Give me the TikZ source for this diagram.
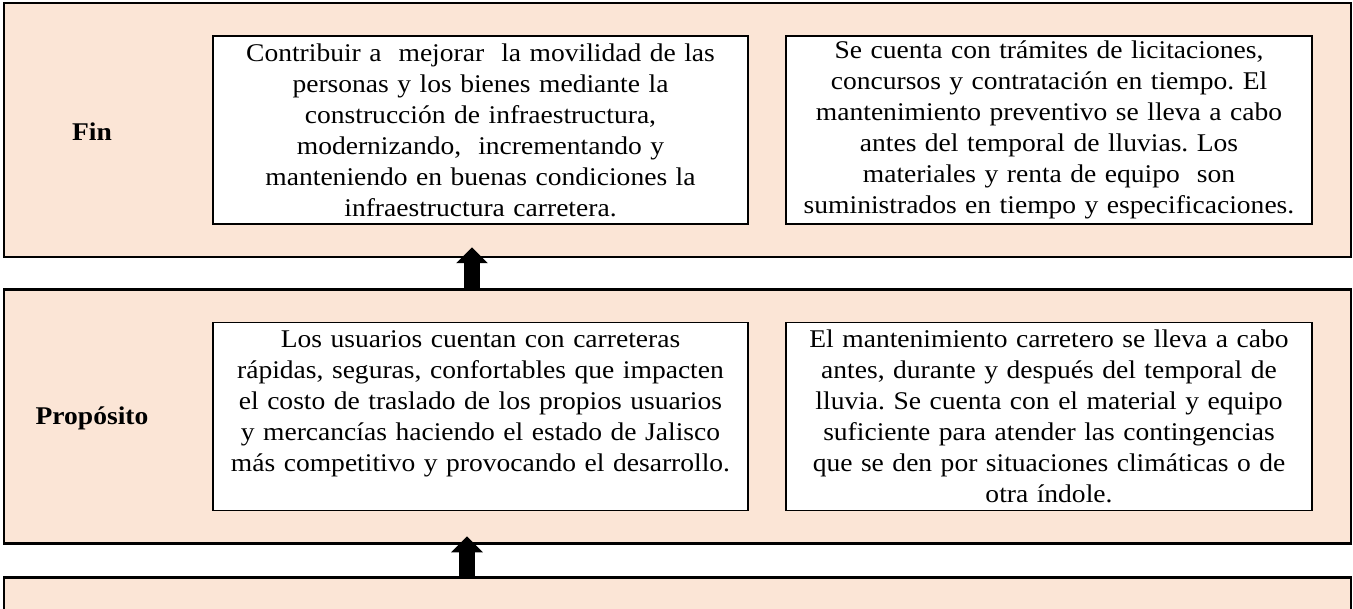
\documentclass[tikz,border=0pt]{standalone}
\usepackage{fontspec}
\setmainfont[FakeStretch=1.08]{Liberation Serif}
\usetikzlibrary{arrows.meta,positioning}
\definecolor{peach}{RGB}{251,229,214}
\frenchspacing

\begin{document}
\begin{tikzpicture}[x=1pt,y=-1pt,
	band/.style={draw,line width=2.5pt,fill=peach,minimum width=1347pt,minimum height=254pt,inner sep=0pt},
	cell/.style={draw,line width=1.8pt,fill=white,text width=#1,align=center,inner xsep=6pt,inner ysep=0pt,minimum height=188pt,font=\fontsize{25.5}{31}\selectfont},
	level/.style={font=\fontsize{25.5}{31}\selectfont\bfseries},
	up/.style={line width=16pt,-{Triangle[width=31pt,length=16pt]}}]
			\clip (0,0) rectangle (1353,609);
			\node[band] (fin) at (677.5,130) {};
			\node[band] (prop) at (677.5,416.5) {};
			\node[band,minimum height=100pt,anchor=north] (comp) at (677.5,576) {};

			\node[level] (finlabel) at (92,132) {Fin};
			\node[level] (proplabel) at (92,418) {Propósito};

			\node[cell=523pt] (finobj) at (480.5,130) {Contribuir a \ mejorar \ la movilidad de las\\ personas y los bienes mediante la\\ construcción de infraestructura,\\ modernizando, \ incrementando y\\ manteniendo en buenas condiciones la\\ infraestructura carretera.};
			\node[cell=514pt] (finsup) at (1049,130) {Se cuenta con trámites de licitaciones,\\ concursos y contratación en tiempo. El\\ mantenimiento preventivo se lleva a cabo\\ antes del temporal de lluvias. Los\\ materiales y renta de equipo \ son\\ suministrados en tiempo y especificaciones.};
			\node[cell=523pt] (propobj) at (480.5,416.5) {Los usuarios cuentan con carreteras\\ rápidas, seguras, confortables que impacten\\ el costo de traslado de los propios usuarios\\ y mercancías haciendo el estado de Jalisco\\ más competitivo y provocando el desarrollo.\\ \mbox{}};
			\node[cell=514pt] (propsup) at (1049,416.5) {El mantenimiento carretero se lleva a cabo\\ antes, durante y después del temporal de\\ lluvia. Se cuenta con el material y equipo\\ suficiente para atender las contingencias\\ que se den por situaciones climáticas o de\\ otra índole.};

			\coordinate (a1) at (472,0);
			\coordinate (a2) at (467,0);
			\draw[up] (prop.north -| a1) -- ([yshift=11pt]fin.south -| a1);
			\draw[up] (comp.north -| a2) -- ([yshift=8.5pt]prop.south -| a2);
		\end{tikzpicture}
\end{document}
